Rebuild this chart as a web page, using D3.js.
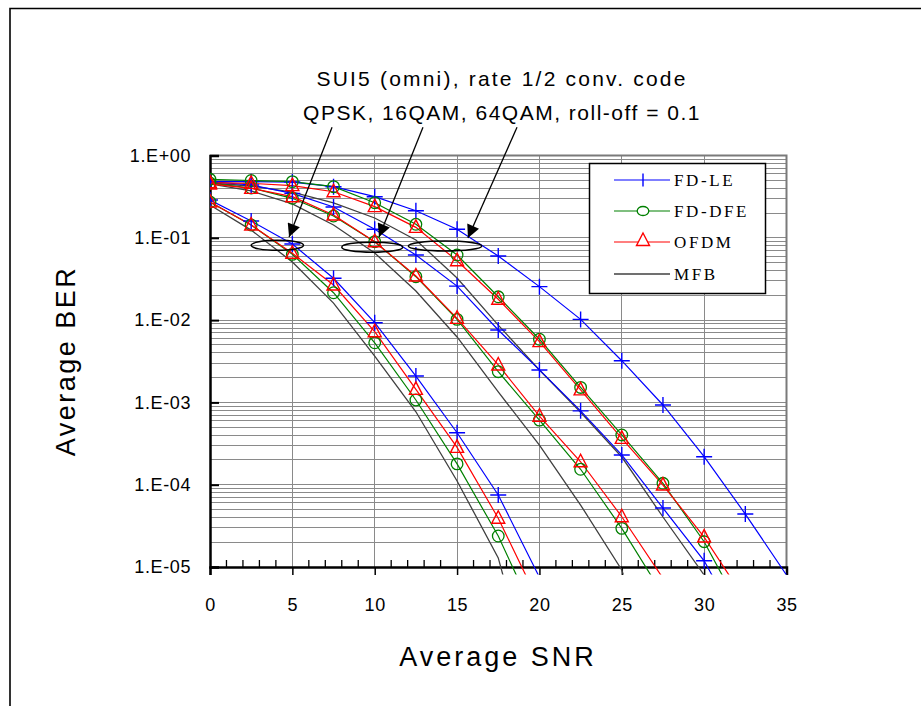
<!DOCTYPE html>
<html><head><meta charset="utf-8">
<script src="https://cdn.jsdelivr.net/npm/d3@7"></script>
<style>body{margin:0;background:#fff}svg{display:block}</style>
</head><body><svg id="c" width="921" height="706"></svg>
<script>
// ---------------- data ----------------
const snr = [0, 2.5, 5, 7.5, 10, 12.5, 15, 17.5, 20, 22.5, 25, 27.5, 30, 32.5, 35];
const xTickValues = [0, 5, 10, 15, 20, 25, 30, 35];
const yTickValues = [1, 1e-1, 1e-2, 1e-3, 1e-4, 1e-5];
const yTickLabels = ["1.E+00", "1.E-01", "1.E-02", "1.E-03", "1.E-04", "1.E-05"];
const seriesNames = ["FD-LE", "FD-DFE", "OFDM", "MFB"];
const titleLines = ["SUI5 (omni), rate 1/2 conv. code", "QPSK, 16QAM, 64QAM, roll-off = 0.1"];
const xTitle = "Average SNR";
const yTitle = "Average BER";

// QPSK
const qpskLE   = [0.288, 0.160, 0.084, 0.0322, 9.3e-3, 2.09e-3, 4.28e-4, 7.5e-5, 7.5e-6];
const qpskDFE  = [0.272, 0.143, 0.063, 0.0215, 5.3e-3, 1.07e-3, 1.79e-4, 2.38e-5, 1.97e-6];
const qpskOFDM = [0.272, 0.143, 0.0648, 0.0267, 7.23e-3, 1.44e-3, 2.84e-4, 3.91e-5, 3.6e-6];
const qpskMFB  = [0.250, 0.124, 0.0508, 0.0161, 3.66e-3, 7.7e-4, 1.11e-4, 1.29e-5, 1.9e-7];
// 16QAM
const qam16LE   = [0.481, 0.438, 0.347, 0.237, 0.127, 0.0618, 0.0259, 7.58e-3, 2.48e-3, 7.9e-4, 2.3e-4, 5.2e-5, 1.19e-5, 1.45e-6];
const qam16DFE  = [0.463, 0.403, 0.302, 0.184, 0.0897, 0.0337, 0.0102, 2.36e-3, 6.1e-4, 1.54e-4, 2.95e-5, 4.6e-6];
const qam16OFDM = [0.451, 0.399, 0.316, 0.189, 0.0897, 0.0343, 0.0105, 2.85e-3, 6.8e-4, 1.9e-4, 4.08e-5, 7.3e-6];
const qam16MFB  = [0.451, 0.371, 0.258, 0.143, 0.0654, 0.0226, 6.24e-3, 1.34e-3, 3.03e-4, 5.66e-5, 9.2e-6, 2.4e-7];
// 64QAM
const qam64LE   = [0.481, 0.481, 0.476, 0.418, 0.316, 0.213, 0.127, 0.0601, 0.0255, 0.0102, 3.21e-3, 9.3e-4, 2.19e-4, 4.4e-5, 8.0e-6];
const qam64DFE  = [0.514, 0.497, 0.481, 0.418, 0.267, 0.146, 0.0618, 0.0192, 5.85e-3, 1.52e-3, 4.02e-4, 1.04e-4, 2.03e-5, 2.4e-6];
const qam64OFDM = [0.467, 0.459, 0.430, 0.363, 0.239, 0.134, 0.0527, 0.0179, 5.47e-3, 1.42e-3, 3.66e-4, 9.9e-5, 2.31e-5, 3.97e-6];
const qam64MFB  = [0.463, 0.426, 0.360, 0.265, 0.174, 0.094, 0.0325, 8.7e-3, 2.48e-3, 7.6e-4, 2.17e-4, 4.05e-5, 8.0e-6, 7.4e-7];

// annotation targets (data units): ellipse centres and arrow ends
const ellipseCentres = [[4.09, 0.081], [9.85, 0.077], [14.27, 0.0795]];
const ellipseHalfWidths = [1.59, 1.85, 2.23];
const arrowStarts = [[7.41, 2.2], [12.93, 2.2], [18.64, 2.2]];
const arrowTips = [[4.8, 0.102], [10.26, 0.102], [15.66, 0.0995]];

// ---------------- drawing ----------------
const svg = d3.select("#c");
const L = 210, R = 786.5, T = 155.5, B = 567;
const x = d3.scaleLinear().domain([0, 35]).range([L, R]);
const y = d3.scaleLog().domain([1e-5, 1]).range([B, T]);
const sans = "'Liberation Sans', Arial, sans-serif";
const serif = "'Liberation Serif', 'Times New Roman', serif";

// outer frame
svg.append("path").attr("d", "M10,706V8.5H921").attr("fill", "none").attr("stroke", "#000").attr("stroke-width", 1.6);

// grid
const grid = svg.append("g").attr("stroke", "#8a8a8a").attr("stroke-width", 1).attr("shape-rendering", "crispEdges");
const minorVals = [];
for (let e = -5; e < 0; e++) for (let k = 2; k <= 9; k++) minorVals.push(k * Math.pow(10, e));
grid.selectAll("line.mi").data(minorVals).join("line")
  .attr("x1", L).attr("x2", R).attr("y1", d => y(d)).attr("y2", d => y(d));
grid.selectAll("line.ma").data(yTickValues.slice(1, 5)).join("line").attr("class", "ma")
  .attr("x1", L).attr("x2", R).attr("y1", d => y(d)).attr("y2", d => y(d));
grid.selectAll("line.vx").data(xTickValues.slice(1, 7)).join("line").attr("class", "vx")
  .attr("x1", d => x(d)).attr("x2", d => x(d)).attr("y1", T).attr("y2", B);

// plot border top/right
svg.append("path").attr("d", `M${L},${T}H${R}V${B}`).attr("fill", "none").attr("stroke", "#7a7a7a").attr("stroke-width", 2);

// axes
const xAxis = d3.axisBottom(x).tickValues(xTickValues).tickSize(8).tickFormat(d3.format("d"));
const gx = svg.append("g").attr("transform", `translate(0,${B})`).call(xAxis);
gx.select(".domain").attr("stroke-width", 2.5);
gx.selectAll(".tick line").attr("stroke-width", 1.5);
gx.selectAll(".tick text").attr("font-family", sans).attr("font-size", 18).attr("fill", "#000")
  .attr("y", 44).attr("dy", 0).attr("letter-spacing", "0.6px");
const minorX = d3.range(1, 35).filter(d => d % 5 !== 0);
svg.append("g").selectAll("line").data(minorX).join("line")
  .attr("x1", d => x(d)).attr("x2", d => x(d)).attr("y1", B).attr("y2", B - 7)
  .attr("stroke", "#000").attr("stroke-width", 1.3);

const yAxis = d3.axisLeft(y).tickValues(yTickValues).tickSize(-9).tickPadding(19)
  .tickFormat((d, i) => yTickLabels[i]);
const gy = svg.append("g").attr("transform", `translate(${L},0)`).call(yAxis);
gy.select(".domain").attr("stroke-width", 2.5);
gy.selectAll(".tick line").attr("stroke-width", 2);
gy.selectAll(".tick text").attr("font-family", sans).attr("font-size", 18).attr("fill", "#000").attr("letter-spacing", "0.6px");

// titles
svg.append("text").attr("x", 498).attr("y", 666).attr("text-anchor", "middle")
  .attr("font-family", sans).attr("font-size", 27).attr("letter-spacing", "3px").text(xTitle);
svg.append("text").attr("transform", "translate(75,361) rotate(-90)").attr("text-anchor", "middle")
  .attr("font-family", sans).attr("font-size", 27).attr("letter-spacing", "2.5px").text(yTitle);

titleLines.forEach((t, i) => {
  svg.append("text").attr("x", 502).attr("y", 86 + i * 34).attr("text-anchor", "middle")
    .attr("font-family", sans).attr("font-size", 21).attr("letter-spacing", i === 0 ? "2.2px" : "1.5px").text(t);
});

// series
const colors = ["#0000ff", "#008000", "#ff0000", "#404040"];
const groups = [
  [qpskLE, qpskDFE, qpskOFDM, qpskMFB],
  [qam16LE, qam16DFE, qam16OFDM, qam16MFB],
  [qam64LE, qam64DFE, qam64OFDM, qam64MFB]
];
svg.append("clipPath").attr("id", "clip").append("rect")
  .attr("x", L).attr("y", T - 10).attr("width", R - L + 0.5).attr("height", B - T + 17.5);
const plot = svg.append("g").attr("clip-path", "url(#clip)");
const line = d3.line().x((d, i) => x(snr[i])).y(d => y(d));

const plusPath = "M-8,0H8M0,-8V8";
const triPath = "M0,-7.5L6.5,5L-6.5,5Z";
function marker(sel, k) {
  if (k === 0) sel.append("path").attr("d", plusPath).attr("stroke", colors[0]).attr("stroke-width", 1.4).attr("fill", "none");
  else if (k === 1) sel.append("circle").attr("r", 5.8).attr("stroke", colors[1]).attr("stroke-width", 1.3).attr("fill", "none");
  else if (k === 2) sel.append("path").attr("d", triPath).attr("stroke", colors[2]).attr("stroke-width", 1.4).attr("fill", "none");
}
const order = [3, 0, 1, 2];
order.forEach(k => {
  groups.forEach(g => {
    plot.append("path").datum(g[k]).attr("d", line).attr("fill", "none")
      .attr("stroke", colors[k]).attr("stroke-width", k === 3 ? 1.3 : 1.2);
  });
});
order.forEach(k => {
  if (k === 3) return;
  groups.forEach(g => {
    g[k].forEach((v, i) => {
      if (v < 1e-5) return;
      const m = plot.append("g").attr("transform", `translate(${x(snr[i])},${y(v)})`);
      marker(m, k);
    });
  });
});

// annotations
ellipseCentres.forEach((c, i) => {
  svg.append("ellipse").attr("cx", x(c[0])).attr("cy", y(c[1]))
    .attr("rx", x(ellipseHalfWidths[i]) - x(0)).attr("ry", 5)
    .attr("fill", "none").attr("stroke", "#000").attr("stroke-width", 1.5);
});
svg.append("defs").append("marker").attr("id", "ah").attr("viewBox", "0 0 10 10")
  .attr("refX", 10).attr("refY", 5).attr("markerWidth", 15).attr("markerHeight", 13)
  .attr("markerUnits", "userSpaceOnUse").attr("orient", "auto")
  .append("path").attr("d", "M0,0L10,5L0,10Z").attr("fill", "#000");
arrowStarts.forEach((s, i) => {
  svg.append("line").attr("x1", x(s[0])).attr("y1", y(s[1]))
    .attr("x2", x(arrowTips[i][0])).attr("y2", y(arrowTips[i][1]))
    .attr("stroke", "#000").attr("stroke-width", 1.3).attr("marker-end", "url(#ah)");
});

// legend
const lg = svg.append("g");
lg.append("rect").attr("x", 589.5).attr("y", 163.5).attr("width", 176).attr("height", 130)
  .attr("fill", "#fff").attr("stroke", "#000").attr("stroke-width", 1.5);
const rowY = [180, 211, 242, 274];
seriesNames.forEach((n, k) => {
  lg.append("line").attr("x1", 614).attr("x2", 670).attr("y1", rowY[k]).attr("y2", rowY[k])
    .attr("stroke", colors[k]).attr("stroke-width", k === 3 ? 1.5 : 1.2);
  const m = lg.append("g").attr("transform", `translate(643,${rowY[k]})`);
  if (k === 0) m.append("path").attr("d", "M0,-6.5V6.5").attr("stroke", colors[0]).attr("stroke-width", 1.4);
  if (k === 1) m.append("ellipse").attr("rx", 5.8).attr("ry", 4.5).attr("fill", "#fff").attr("stroke", colors[1]).attr("stroke-width", 1.3);
  if (k === 2) m.append("path").attr("d", "M0,-9L6.5,3.5L-6.5,3.5Z").attr("fill", "#fff").attr("stroke", colors[2]).attr("stroke-width", 1.4);
  lg.append("text").attr("x", 674).attr("y", rowY[k] + 6).attr("font-family", serif)
    .attr("font-size", 17).attr("letter-spacing", "2.6px").text(n);
});
</script></body></html>
